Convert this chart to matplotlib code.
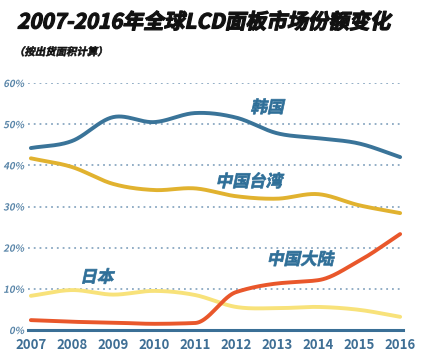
import numpy as np
import matplotlib
matplotlib.use("Agg")
import matplotlib.pyplot as plt
from matplotlib.patheffects import AbstractPathEffect
from matplotlib.transforms import Affine2D

plt.rcParams['font.family'] = ['Noto Sans CJK SC', 'DejaVu Sans']

years = [2007, 2008, 2009, 2010, 2011, 2012, 2013, 2014, 2015, 2016]
korea = [44.2, 45.9, 51.7, 50.5, 52.7, 51.6, 47.8, 46.6, 45.3, 42.0]
taiwan = [41.7, 39.6, 35.5, 34.0, 34.4, 32.5, 31.9, 33.0, 30.3, 28.4]
japan = [8.3, 9.7, 8.6, 9.5, 8.5, 5.6, 5.3, 5.6, 4.9, 3.2]
china = [2.4, 2.0, 1.8, 1.5, 1.7, 9.2, 11.3, 12.1, 16.8, 23.3]
series_names = ['韩国', '中国台湾', '日本', '中国大陆']
yticks = [0, 10, 20, 30, 40, 50, 60]


def hermite(x, y, m, n=400):
    x = np.asarray(x, float); y = np.asarray(y, float)
    h = np.diff(x)
    xs = np.linspace(x[0], x[-1], n)
    idx = np.clip(np.searchsorted(x, xs) - 1, 0, len(x) - 2)
    t = (xs - x[idx]) / h[idx]
    h00 = 2 * t**3 - 3 * t**2 + 1; h10 = t**3 - 2 * t**2 + t
    h01 = -2 * t**3 + 3 * t**2; h11 = t**3 - t**2
    ys = h00 * y[idx] + h10 * h[idx] * m[idx] + h01 * y[idx + 1] + h11 * h[idx] * m[idx + 1]
    return xs, ys


def catmull(x, y):
    x = np.asarray(x, float); y = np.asarray(y, float)
    m = np.gradient(y, x)
    return hermite(x, y, m)


def pchip(x, y):
    x = np.asarray(x, float); y = np.asarray(y, float)
    h = np.diff(x); d = np.diff(y) / h
    m = np.zeros_like(y)
    for k in range(1, len(x) - 1):
        if d[k - 1] * d[k] > 0:
            w1 = 2 * h[k] + h[k - 1]; w2 = h[k] + 2 * h[k - 1]
            m[k] = (w1 + w2) / (w1 / d[k - 1] + w2 / d[k])
    m[0] = d[0]; m[-1] = d[-1]
    return hermite(x, y, m)


class Skew(AbstractPathEffect):
    def __init__(self, deg=12, stroke=0.0):
        super().__init__()
        self.deg = deg
        self.stroke = stroke

    def draw_path(self, renderer, gc, tpath, affine, rgbFace=None):
        ox, oy = affine.transform((0, 0))
        sk = Affine2D().translate(-ox, -oy).skew_deg(self.deg, 0).translate(ox, oy)
        gc0 = renderer.new_gc()
        gc0.copy_properties(gc)
        if self.stroke > 0:
            gc0.set_linewidth(self.stroke)
            gc0.set_foreground(rgbFace)
        else:
            gc0.set_linewidth(0)
        renderer.draw_path(gc0, tpath, affine + sk, rgbFace)
        gc0.restore()


fig = plt.figure(figsize=(4.24, 3.64), dpi=100)
ax = fig.add_axes([28 / 424, (364 - 330) / 364, (403 - 28) / 424, (330 - 83) / 364])
ax.set_xlim(2006.93, 2016.07)
ax.set_ylim(0, 60)

colors = ['#3a7499', '#e1b22f', '#f8e27a', '#e9572b']
curves = [catmull(years, korea), catmull(years, taiwan), catmull(years, japan), pchip(years, china)]
for (xs, ys), c in zip(curves, colors):
    ax.plot(xs, ys, color=c, lw=2.8, solid_capstyle='round', zorder=3)

for v in yticks[1:]:
    ax.axhline(v, color='#8aa8c2', lw=1.3, ls=(0, (1, 2.2)), zorder=1)

for s in ['top', 'right', 'left']:
    ax.spines[s].set_visible(False)
ax.spines['bottom'].set_color('#3a6f96')
ax.spines['bottom'].set_linewidth(2.2)
ax.spines['bottom'].set_zorder(4)

ax.set_xticks(years)
ax.set_xticklabels([str(y) for y in years], fontsize=9.5, fontweight='bold', color='#3f6f95')
ax.set_yticks(yticks)
ax.set_yticklabels([f'{v}%' for v in yticks], fontsize=7, fontweight='bold', color='#5a86a9')
for t in ax.get_yticklabels():
    t.set_path_effects([Skew(12)])
ax.tick_params(axis='both', length=0)
ax.tick_params(axis='x', pad=6)
ax.tick_params(axis='y', pad=3)

lab_color = '#2f6f98'
lab_pos = [(2012.35, 54.0), (2011.5, 36.0), (2008.2, 12.8), (2012.75, 17.1)]
for name, (lx, ly) in zip(series_names, lab_pos):
    ax.text(lx, ly, name, fontsize=12, fontweight='bold', color=lab_color, ha='left', va='center',
            path_effects=[Skew(12, 0.5)])

fig.text(17 / 424, 1 - 22 / 364, '2007-2016年全球LCD面板市场份额变化', fontsize=14.9,
         fontweight='heavy', color='#111111', ha='left', va='center',
         path_effects=[Skew(12, 0.9)])
fig.text(14 / 424, 1 - 52 / 364, '（按出货面积计算）', fontsize=7.5, fontweight='bold',
         color='#111111', ha='left', va='center', path_effects=[Skew(12, 0.4)])

fig.savefig('out.png', dpi=100)
